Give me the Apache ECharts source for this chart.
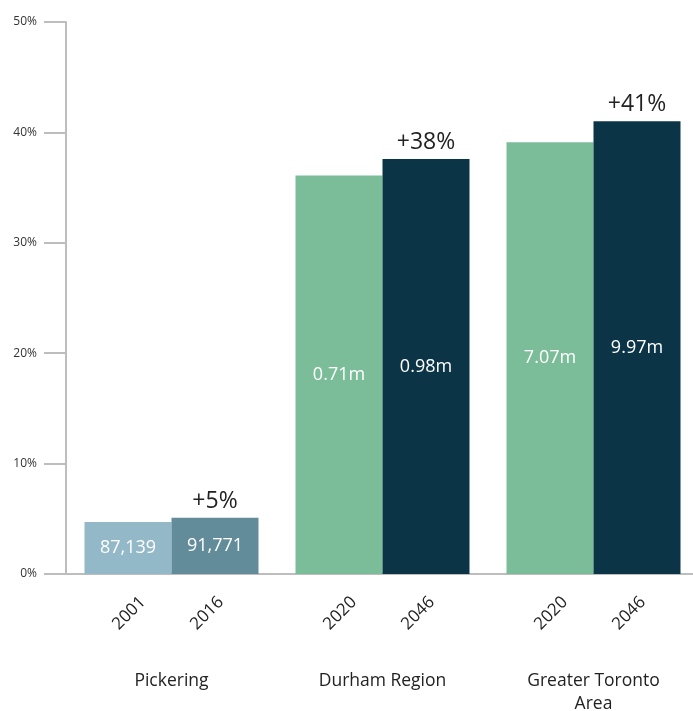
<!DOCTYPE html>
<html>
<head>
<meta charset="utf-8">
<script src="https://cdn.jsdelivr.net/npm/echarts@6/dist/echarts.min.js"></script>
<style>
html,body{margin:0;padding:0;background:#fff;}
#chart{width:693px;height:711px;}
</style>
</head>
<body>
<div id="chart"></div>
<script>
// ---- data ----
var categories = ['Pickering', 'Durham Region', 'Greater Toronto\nArea'];
var firstYears = ['2001', '2020', '2020'];
var secondYears = ['2016', '2046', '2046'];
var firstValues = [4.7, 36.1, 39.1];
var secondValues = [5.1, 37.6, 41.0];
var firstLabels = ['87,139', '0.71m', '7.07m'];
var secondLabels = ['91,771', '0.98m', '9.97m'];
var changeLabels = ['+5%', '+38%', '+41%'];
var yTicks = [0, 10, 20, 30, 40, 50];

// ---- styles ----
var FONT = 'Open Sans';
var firstColors = ['#93b8c7', '#7bbd99', '#7bbd99'];
var secondColors = ['#628c99', '#0c3447', '#0c3447'];
var AXIS = '#bdbdbd';
var BAR_W = 87;

var chart = echarts.init(document.getElementById('chart'));

var option = {
  animation: false,
  backgroundColor: '#fff',
  textStyle: { fontFamily: FONT },
  grid: { left: 66, top: 22, width: 633, height: 552, outerBoundsMode: 'none', containLabel: false },
  xAxis: {
    type: 'category',
    data: categories,
    axisLine: { lineStyle: { color: AXIS, width: 2 } },
    axisTick: { alignWithLabel: false, length: 21, lineStyle: { color: AXIS, width: 2 } },
    axisLabel: { margin: 96, fontSize: 17.5, color: '#222', lineHeight: 23, fontFamily: FONT }
  },
  yAxis: {
    type: 'value',
    min: yTicks[0],
    max: yTicks[yTicks.length - 1],
    interval: 10,
    axisLine: { show: true, lineStyle: { color: AXIS, width: 2 } },
    axisTick: { show: true, length: 22, lineStyle: { color: AXIS, width: 2 } },
    splitLine: { show: false },
    axisLabel: { margin: 29, fontSize: 12, color: '#333', formatter: '{value}%', fontFamily: FONT }
  },
  series: [
    {
      type: 'bar',
      barWidth: BAR_W,
      barGap: 0,
      data: firstValues.map(function (v, i) {
        return { value: v, itemStyle: { color: firstColors[i] } };
      }),
      label: {
        show: true, position: 'inside', color: '#fff', fontSize: 18, fontFamily: FONT,
        formatter: function (p) { return firstLabels[p.dataIndex]; }
      }
    },
    {
      type: 'bar',
      barWidth: BAR_W,
      barGap: 0,
      data: secondValues.map(function (v, i) {
        return { value: v, itemStyle: { color: secondColors[i] } };
      }),
      label: {
        show: true, position: 'inside', color: '#fff', fontSize: 18, fontFamily: FONT,
        formatter: function (p) { return secondLabels[p.dataIndex]; }
      }
    },
    {
      type: 'custom',
      silent: true,
      clip: false,
      z: 10,
      data: categories.map(function (c, i) { return [i, secondValues[i]]; }),
      renderItem: function (params, api) {
        var i = params.dataIndex;
        var base = api.coord([api.value(0), 0]);
        var top = api.coord([api.value(0), api.value(1)]);
        var half = BAR_W / 2;
        var children = [];
        var yearsPair = [firstYears[i], secondYears[i]];
        var offs = [-39 - 3, 39 - 3];
        for (var k = 0; k < 2; k++) {
          var cx = base[0] + offs[k];
          var cy = base[1] + 39;
          var d = 19 / Math.SQRT2;
          children.push({
            type: 'text',
            x: cx + d, y: cy - d,
            rotation: Math.PI / 4,
            style: {
              text: yearsPair[k], fill: '#222', fontSize: 17, fontFamily: FONT,
              align: 'right', verticalAlign: 'middle'
            }
          });
        }
        children.push({
          type: 'text',
          x: top[0] + half, y: top[1] - 5,
          style: {
            text: changeLabels[i], fill: '#222', fontSize: 23, fontFamily: FONT,
            align: 'center', verticalAlign: 'bottom'
          }
        });
        return { type: 'group', children: children };
      }
    }
  ]
};
chart.setOption(option);
</script>
</body>
</html>
